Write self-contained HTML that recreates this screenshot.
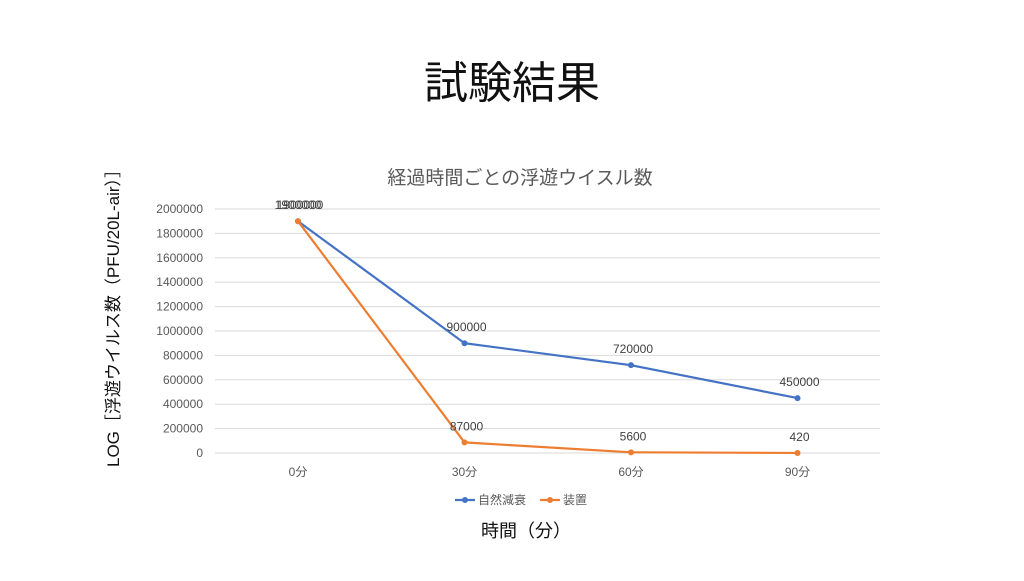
<!DOCTYPE html>
<html><head><meta charset="utf-8"><style>
body{margin:0;background:#fff;}
svg text{font-family:"Liberation Sans","Noto Sans CJK JP",sans-serif;}
</style></head><body>
<svg width="1024" height="576" viewBox="0 0 1024 576" xmlns="http://www.w3.org/2000/svg">
<text x="512" y="98" text-anchor="middle" font-size="44" fill="#111">試験結果</text>
<text x="520" y="184" text-anchor="middle" font-size="19" fill="#595959">経過時間ごとの浮遊ウイスル数</text>
<text transform="translate(119,314) rotate(-90)" text-anchor="middle" font-size="17" fill="#111">LOG［浮遊ウイルス数（PFU/20L-air）］</text>
<text x="526" y="537" text-anchor="middle" font-size="18" fill="#111">時間（分）</text>
<g id="grid"></g><g id="series"></g>
<g>
<line x1="455" y1="500" x2="475" y2="500" stroke="#4472C4" stroke-width="2.2"/><circle cx="465" cy="500" r="3" fill="#4472C4"/>
<text x="478" y="504" font-size="12" fill="#595959">自然減衰</text>
<line x1="540" y1="500" x2="560" y2="500" stroke="#ED7D31" stroke-width="2.2"/><circle cx="550" cy="500" r="3" fill="#ED7D31"/>
<text x="563" y="504" font-size="12" fill="#595959">装置</text>
</g>
</svg>
<script>
const categories=["0分","30分","60分","90分"];
const natural=[1900000,900000,720000,450000];
const device=[1900000,87000,5600,420];
const yTicks=[0,200000,400000,600000,800000,1000000,1200000,1400000,1600000,1800000,2000000];
const NS="http://www.w3.org/2000/svg";
const y0=453,y1=209,yMax=2000000;
function ys(v){return y0-(v/yMax)*(y0-y1);}
function xs(i){return 298+i*166.5;}
function mk(t,a,p){const e=document.createElementNS(NS,t);for(const k in a)e.setAttribute(k,a[k]);p.appendChild(e);return e;}
const g=document.getElementById('grid');
yTicks.forEach(v=>{
 const l=mk('line',{x1:215,x2:880,y1:ys(v),y2:ys(v),stroke:'#d9d9d9','stroke-width':1},g);
 
 
 const t=mk('text',{x:203,y:ys(v)+4,'text-anchor':'end','font-size':12,fill:'#595959'},g);
 t.textContent=v;
 
 
});
categories.forEach((c,i)=>{
 const t=mk('text',{x:xs(i),y:476,'text-anchor':'middle','font-size':12,fill:'#595959'},g);
 t.textContent=c;
 
 
});
const s=document.getElementById('series');
function draw(data,color,name,labelBelowFirst){
 const pl=mk('polyline',{points:data.map((v,i)=>xs(i)+','+ys(v)).join(' '),fill:'none',stroke:color,'stroke-width':2.2},s);
 
 
 data.forEach((v,i)=>{
  const c=mk('circle',{cx:xs(i),cy:ys(v),r:3,fill:color},s);
  
  
  const t=mk('text',{x:xs(i)+(name==='device'&&i===0?0:2),y:ys(v)-12,'text-anchor':'middle','font-size':12,fill:'#404040'},s);
  t.textContent=v;
  
  
 });
}
draw(natural,'#4472C4','natural');
draw(device,'#ED7D31','device');
</script>
</body></html>
